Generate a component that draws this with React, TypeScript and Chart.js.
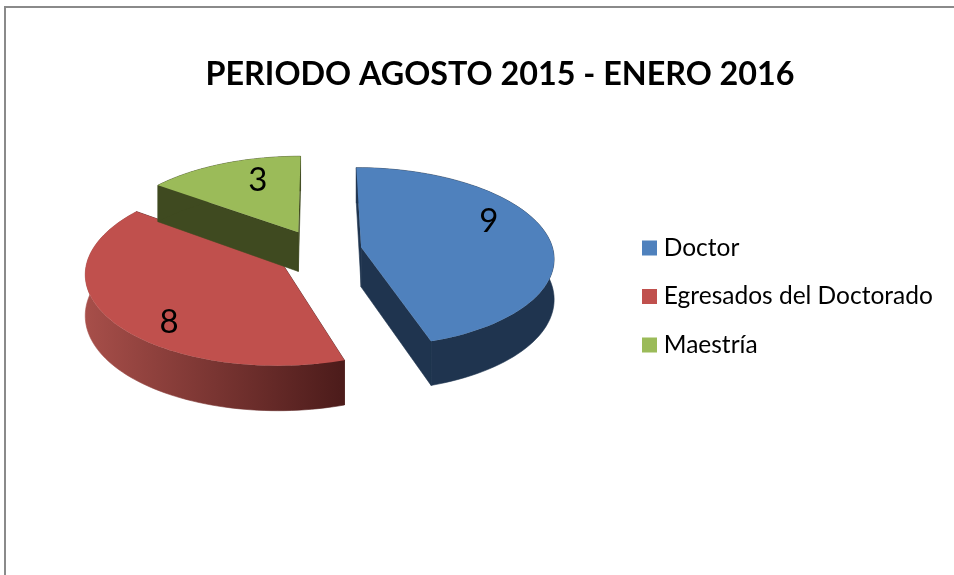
import React, { useEffect, useRef } from "react";
import { Chart, registerables } from "chart.js";

Chart.register(...registerables);

const categories = ["Doctor", "Egresados del Doctorado", "Maestría"];
const values = [9, 8, 3];
const topColors = ["#4f81bd", "#c0504d", "#9bbb59"];
const titleText = "PERIODO AGOSTO 2015 - ENERO 2016";

const FONT = "Lato, 'Open Sans', sans-serif";
const TILT = 0.47;
const PERSPECTIVE = 0.111;
const DEPTH = 40;
const LIFT = -41;
const EXPLODE = 44;
const LEGEND_LEFT = 623.5;
const LEGEND_SHIFT = 55.5;
const labelFractions = [0.77, 0.79, 0.72];
const labelAngleShifts = [-15.5, -11.7, 7.3];

const pie3d = {
  id: "pie3d",
  afterLayout(chart: any) {
    if (chart.titleBlock) {
      chart.titleBlock.left += 22.5;
      chart.titleBlock.right += 22.5;
    }
    if (chart.legend) {
      const width = chart.legend.right - chart.legend.left;
      chart.legend.left = LEGEND_LEFT;
      chart.legend.right = LEGEND_LEFT + width;
      chart.legend.top += LEGEND_SHIFT;
      chart.legend.bottom += LEGEND_SHIFT;
    }
  },
  beforeDatasetsDraw(chart: any) {
    const ctx: CanvasRenderingContext2D = chart.ctx;
    const arcs = chart.getDatasetMeta(0).data;
    const first = arcs[0].getProps(["x", "y", "outerRadius"], true);
    const cx = first.x;
    const cy = first.y + LIFT;
    const R = first.outerRadius;
    const project = (x: number, y: number, z: number) => {
      const s = 1 + (PERSPECTIVE * y) / R;
      return [cx + x * s, cy + y * TILT * s + z * s];
    };
    const sliceGeometry = (arc: any) => {
      const p = arc.getProps(["startAngle", "endAngle"], true);
      const mid = (p.startAngle + p.endAngle) / 2;
      return { a0: p.startAngle, a1: p.endAngle, mid, ox: Math.cos(mid) * EXPLODE, oy: Math.sin(mid) * EXPLODE };
    };
    const rimPoints = (g: any, z: number) => {
      const pts: number[][] = [];
      const n = 80;
      for (let i = 0; i <= n; i++) {
        const a = g.a0 + ((g.a1 - g.a0) * i) / n;
        pts.push(project(g.ox + Math.cos(a) * R, g.oy + Math.sin(a) * R, z));
      }
      return pts;
    };
    const fillPoly = (pts: number[][], fill: any, seam = false) => {
      ctx.beginPath();
      pts.forEach((q, i) => (i ? ctx.lineTo(q[0], q[1]) : ctx.moveTo(q[0], q[1])));
      ctx.closePath();
      ctx.fillStyle = fill;
      ctx.fill();
      if (seam) {
        ctx.strokeStyle = fill;
        ctx.lineWidth = 0.6;
        ctx.stroke();
      }
    };
    const wallStyle = (i: number) => {
      if (i === 1) {
        const grad = ctx.createLinearGradient(cx - 235, 0, cx + 22, 0);
        grad.addColorStop(0, "#a84f4a");
        grad.addColorStop(1, "#4d1c1b");
        return grad;
      }
      return i === 0 ? "#1f344f" : "#3f4a20";
    };
    arcs.forEach((arc: any, i: number) => {
      const g = sliceGeometry(arc);
      const style = wallStyle(i);
      const solid = i === 0 ? "#1f344f" : i === 1 ? "#4d1c1b" : "#3f4a20";
      const apexT = project(g.ox, g.oy, 0);
      const apexB = project(g.ox, g.oy, DEPTH);
      [g.a0, g.a1].forEach((a) => {
        const t = project(g.ox + Math.cos(a) * R, g.oy + Math.sin(a) * R, 0);
        const b = project(g.ox + Math.cos(a) * R, g.oy + Math.sin(a) * R, DEPTH);
        fillPoly([apexT, t, b, apexB], solid, true);
      });
      const top = rimPoints(g, 0);
      const bottom = rimPoints(g, DEPTH).reverse();
      fillPoly([...top, ...bottom], style, true);
      fillPoly([apexT, ...top], topColors[i]);
    });
    ctx.fillStyle = "#000";
    ctx.font = `33px ${FONT}`;
    ctx.textAlign = "center";
    ctx.textBaseline = "middle";
    arcs.forEach((arc: any, i: number) => {
      const g = sliceGeometry(arc);
      const a = g.mid + (labelAngleShifts[i] * Math.PI) / 180;
      const r = R * labelFractions[i];
      const q = project(g.ox + Math.cos(a) * r, g.oy + Math.sin(a) * r, 0);
      ctx.fillText(String(values[i]), q[0], q[1] + 2);
    });
    return false;
  },
};

export default function App() {
  const ref = useRef<HTMLCanvasElement>(null);
  useEffect(() => {
    document.body.style.margin = "0";
    const chart = new Chart(ref.current!, {
      type: "pie",
      data: {
        labels: categories,
        datasets: [{ data: values, backgroundColor: topColors, borderWidth: 0, radius: 192 }],
      },
      options: {
        responsive: false,
        animation: false,
        layout: { padding: { left: 21, right: 20, top: 0, bottom: 93 } },
        plugins: {
          tooltip: { enabled: false },
          title: {
            display: true,
            text: titleText,
            color: "#000",
            font: { family: FONT, size: 32.3, weight: "bold" },
            padding: { top: 55, bottom: 7 },
          },
          legend: {
            position: "right",
            labels: {
              color: "#000",
              usePointStyle: true,
              pointStyle: "rect",
              boxWidth: 4,
              boxHeight: 15,
              padding: 24,
              font: { family: FONT, size: 24.5 },
            },
          },
        },
      },
      plugins: [pie3d],
    } as any);
    return () => chart.destroy();
  }, []);
  return (
    <div style={{ position: "absolute", left: 0, top: 0, width: 954, height: 575, overflow: "hidden", background: "#fff" }}>
      <div style={{ position: "absolute", left: 4, top: 6, right: -4, bottom: -4, borderLeft: "2px solid #8a8a8a", borderTop: "2px solid #8a8a8a" }} />
      <canvas ref={ref} width={954} height={575} style={{ position: "absolute", left: 0, top: 0 }} />
    </div>
  );
}
